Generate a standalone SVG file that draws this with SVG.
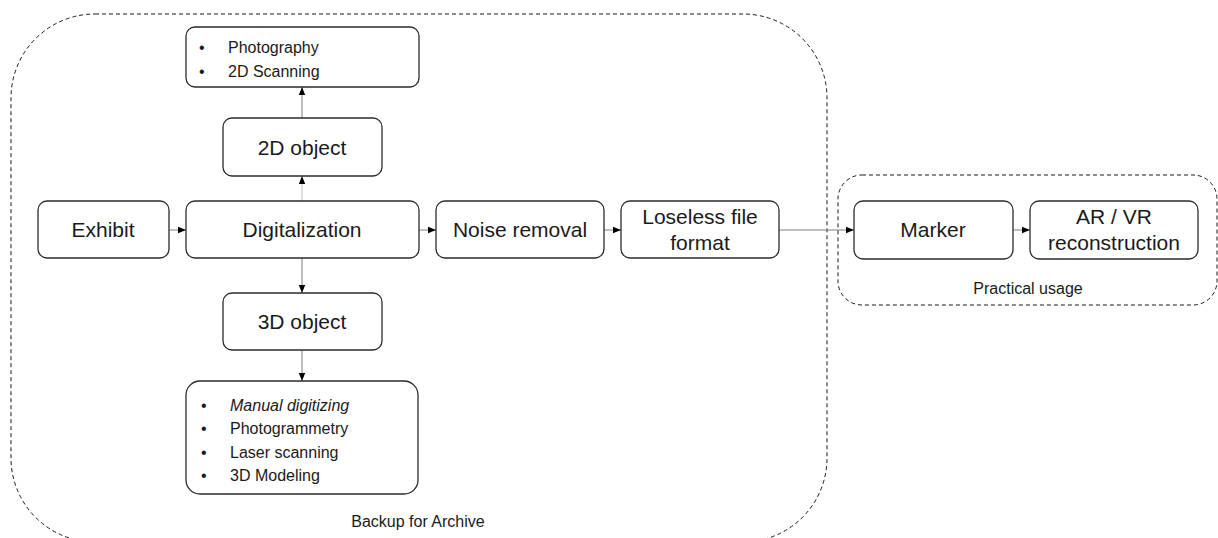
<svg xmlns="http://www.w3.org/2000/svg" width="1218" height="538" viewBox="0 0 1218 538">
<defs>
<style>
.box{fill:#fff;stroke:#2b2b2b;stroke-width:1.3}
.grp{fill:none;stroke:#1a1a1a;stroke-width:1;stroke-dasharray:4 3}
.c{stroke:#7f7f7f;stroke-width:1;fill:none;marker-end:url(#ah)}
.t{font-family:"Liberation Sans",Arial,sans-serif;fill:#1a1a1a;text-anchor:middle}
.big{font-size:21px}
.sm{font-size:16px}
.lt{font-family:"Liberation Sans",Arial,sans-serif;fill:#1a1a1a;font-size:16px}
.bl{font-family:"Liberation Sans",Arial,sans-serif;fill:#1a1a1a;font-size:16px}
</style>
<marker id="ah" viewBox="0 0 8 8" refX="8" refY="4" markerWidth="8" markerHeight="8" markerUnits="userSpaceOnUse" orient="auto">
<path d="M0,0.8 L8,4 L0,7.2 Z" fill="#000"/>
</marker>
</defs>
<rect width="1218" height="538" fill="#fff"/>
<g id="group-archive">
<rect class="grp" x="11" y="14" width="816" height="528" rx="84"/>
<text class="t sm" x="418" y="527">Backup for Archive</text>
</g>
<g id="group-practical">
<rect class="grp" x="838" y="175" width="379" height="130" rx="24"/>
<text class="t sm" x="1028" y="294">Practical usage</text>
</g>
<g id="connectors">
<line class="c" x1="302" y1="118" x2="302" y2="87"/>
<line class="c" x1="302" y1="201" x2="302" y2="176" style="stroke:#bdbdbd"/>
<line class="c" x1="169" y1="230" x2="186" y2="230"/>
<line class="c" x1="302" y1="258" x2="302" y2="293"/>
<line class="c" x1="302" y1="350" x2="302" y2="381"/>
<line class="c" x1="419" y1="230" x2="436" y2="230"/>
<line class="c" x1="604" y1="230" x2="621" y2="230"/>
<line class="c" x1="779" y1="230" x2="854" y2="230"/>
<line class="c" x1="1013" y1="230" x2="1030" y2="230"/>
</g>
<g id="node-2d-methods">
<rect class="box" x="186" y="27" width="233" height="60" rx="9"/>
<text class="bl" x="199" y="53">•</text><text class="lt" x="228" y="53">Photography</text>
<text class="bl" x="199" y="77">•</text><text class="lt" x="228" y="77">2D Scanning</text>
</g>
<g id="node-2d-object">
<rect class="box" x="223" y="118" width="159" height="58" rx="9"/>
<text class="t big" x="302" y="155">2D object</text>
</g>
<g id="node-exhibit">
<rect class="box" x="38" y="201" width="131" height="57" rx="9"/>
<text class="t big" x="103" y="237">Exhibit</text>
</g>
<g id="node-digitalization">
<rect class="box" x="186" y="201" width="233" height="57" rx="9"/>
<text class="t big" x="302" y="237">Digitalization</text>
</g>
<g id="node-noise">
<rect class="box" x="436" y="201" width="168" height="57" rx="9"/>
<text class="t big" x="520" y="237">Noise removal</text>
</g>
<g id="node-lossless">
<rect class="box" x="621" y="201" width="158" height="57" rx="9"/>
<text class="t big" x="700" y="224">Loseless file</text>
<text class="t big" x="700" y="250">format</text>
</g>
<g id="node-marker">
<rect class="box" x="854" y="201" width="159" height="58" rx="9"/>
<text class="t big" x="933" y="237">Marker</text>
</g>
<g id="node-arvr">
<rect class="box" x="1030" y="201" width="168" height="58" rx="9"/>
<text class="t big" x="1114" y="224">AR / VR</text>
<text class="t big" x="1114" y="250">reconstruction</text>
</g>
<g id="node-3d-object">
<rect class="box" x="223" y="293" width="159" height="57" rx="9"/>
<text class="t big" x="302" y="329">3D object</text>
</g>
<g id="node-3d-methods">
<rect class="box" x="186" y="381" width="232" height="113" rx="14"/>
<text class="bl" x="201" y="411">•</text><text class="lt" x="230" y="411" font-style="italic">Manual digitizing</text>
<text class="bl" x="201" y="434">•</text><text class="lt" x="230" y="434">Photogrammetry</text>
<text class="bl" x="201" y="458">•</text><text class="lt" x="230" y="458">Laser scanning</text>
<text class="bl" x="201" y="481">•</text><text class="lt" x="230" y="481">3D Modeling</text>
</g>
</svg>
